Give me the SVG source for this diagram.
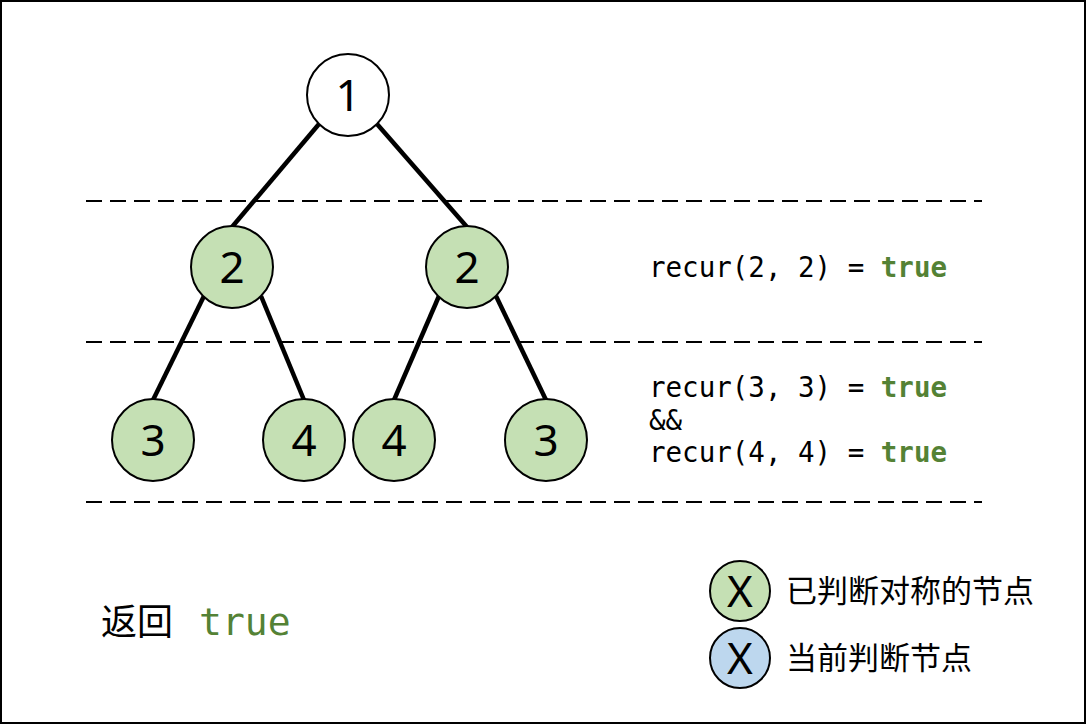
<svg xmlns="http://www.w3.org/2000/svg" width="1086" height="725" viewBox="0 0 1086 725">
<style>
.n{stroke:#000;stroke-width:2}
.g{fill:#c5e0b4}
.b{fill:#bdd7ee}
.w{fill:#fff}
.t{font-family:"Noto Sans","DejaVu Sans",sans-serif;font-size:44px;text-anchor:middle;fill:#000}
.m{font-family:"DejaVu Sans Mono","Liberation Mono",monospace;font-size:27.5px;fill:#000}
.tr{fill:#548235;font-weight:bold}
.cj{font-family:"Noto Sans CJK SC",sans-serif;font-size:31px;fill:#000}
.e{stroke:#000;stroke-width:4.5;fill:none}
.d{stroke:#000;stroke-width:2;stroke-dasharray:16 8;fill:none}
</style>
<rect x="1" y="1" width="1084" height="722" fill="#fff" stroke="#000" stroke-width="2"/>
<g id="dashes">
<line class="d" x1="86" y1="201" x2="982" y2="201"/>
<line class="d" x1="86" y1="342" x2="982" y2="342"/>
<line class="d" x1="86" y1="502" x2="982" y2="502"/>
</g>
<g id="connectors">
<line class="e" x1="319" y1="124" x2="232" y2="227"/>
<line class="e" x1="377" y1="124" x2="467" y2="227"/>
<line class="e" x1="204" y1="296" x2="153" y2="400"/>
<line class="e" x1="261" y1="296" x2="304" y2="400"/>
<line class="e" x1="439" y1="296" x2="394" y2="400"/>
<line class="e" x1="496" y1="296" x2="546" y2="400"/>
</g>
<g id="n1"><circle class="n w" cx="348" cy="95" r="41"/><text class="t" x="348" y="111">1</text></g>
<g id="n2a"><circle class="n g" cx="232" cy="267" r="41"/><text class="t" x="232" y="283">2</text></g>
<g id="n2b"><circle class="n g" cx="467" cy="267" r="41"/><text class="t" x="467" y="283">2</text></g>
<g id="n3a"><circle class="n g" cx="153" cy="440" r="41"/><text class="t" x="153" y="456">3</text></g>
<g id="n4a"><circle class="n g" cx="304" cy="440" r="41"/><text class="t" x="304" y="456">4</text></g>
<g id="n4b"><circle class="n g" cx="394" cy="440" r="41"/><text class="t" x="394" y="456">4</text></g>
<g id="n3b"><circle class="n g" cx="546" cy="440" r="41"/><text class="t" x="546" y="456">3</text></g>
<g id="labels">
<text class="m" x="649" y="277">recur(2, 2) = <tspan class="tr">true</tspan></text>
<text class="m" x="649" y="397">recur(3, 3) = <tspan class="tr">true</tspan></text>
<text class="m" x="649" y="430">&amp;&amp;</text>
<text class="m" x="649" y="462">recur(4, 4) = <tspan class="tr">true</tspan></text>
</g>
<g id="result">
<text class="cj" x="101" y="635" style="font-size:36px">返回</text>
<text x="199" y="635" style="font-family:'DejaVu Sans Mono','Liberation Mono',monospace;font-size:38px;fill:#548235">true</text>
</g>
<g id="legend-green"><circle class="n g" cx="740" cy="591" r="30"/><text class="t" x="740" y="607">X</text><text class="cj" x="786" y="602">已判断对称的节点</text></g>
<g id="legend-blue"><circle class="n b" cx="740" cy="658" r="30"/><text class="t" x="740" y="674">X</text><text class="cj" x="786" y="669">当前判断节点</text></g>
</svg>
